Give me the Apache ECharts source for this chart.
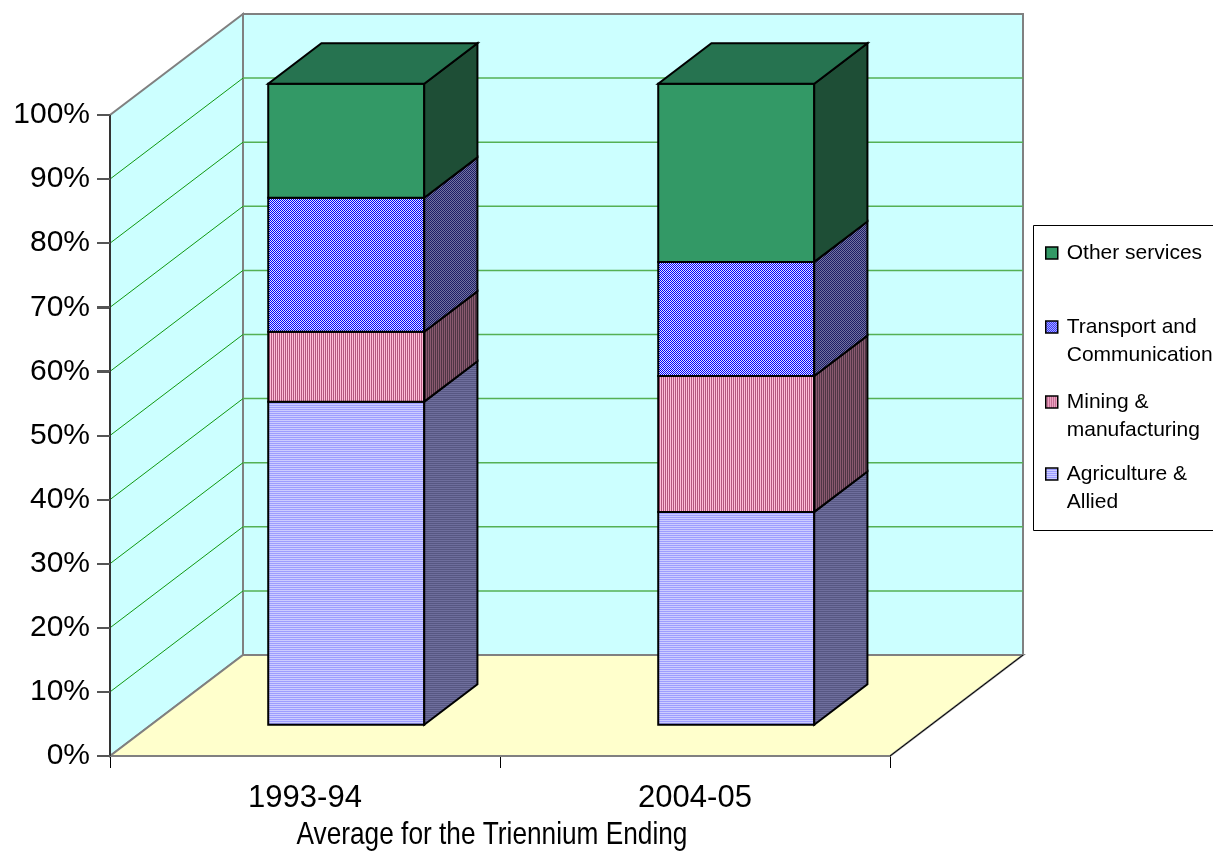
<!DOCTYPE html>
<html>
<head>
<meta charset="UTF-8">
<title>Average for the Triennium Ending</title>
<script src="https://cdn.jsdelivr.net/npm/echarts@6/dist/echarts.min.js"></script>
<style>
  html, body { margin: 0; padding: 0; background: #fff; }
  #main { width: 1213px; height: 853px; }
</style>
</head>
<body>
<div id="main"></div>
<script type="text/javascript">
// data (share in %)
var categories = ['1993-94', '2004-05'];
var agriculture = [50.4, 33.2];
var mining = [10.9, 21.2];
var transport = [20.9, 17.8];
var otherServices = [17.8, 27.8];
var seriesNames = ['Agriculture &\nAllied', 'Mining &\nmanufacturing', 'Transport and\nCommunication', 'Other services'];
var yTicks = [0, 10, 20, 30, 40, 50, 60, 70, 80, 90, 100];

var FONT = '"Liberation Sans", Arial, sans-serif';
var DEPTH = [133, -101];   // 3d depth of the floor in px
var FRONT = 0.31, BACK = 0.71, BAR_W = 0.4;

// small canvas patterns like the excel fills
function pattern(w, h, cells) {
  var c = document.createElement('canvas');
  c.width = w; c.height = h;
  var ctx = c.getContext('2d');
  for (var y = 0; y < h; y++) {
    for (var x = 0; x < w; x++) {
      ctx.fillStyle = cells[y][x];
      ctx.fillRect(x, y, 1, 1);
    }
  }
  return { image: c, repeat: 'repeat' };
}

var looks = [
  { front: pattern(1, 2, [['#ccccff'], ['#9d9dff']]),
    side: pattern(1, 2, [['#6e6e9c'], ['#575782']]) },
  { front: pattern(2, 1, [['#ffbcd8', '#b3567f']]),
    side: pattern(2, 1, [['#8a5a70', '#4f3545']]) },
  { front: pattern(2, 2, [['#0000ff', '#e4e4ff'], ['#e4e4ff', '#0000ff']]),
    side: pattern(2, 2, [['#1c1c66', '#74749f'], ['#74749f', '#1c1c66']]) },
  { front: '#339966', side: '#1e4e36', top: '#267350' }
];

var allValues = [agriculture, mining, transport, otherServices];

function renderWalls(params, api) {
  var cs = params.coordSys;
  var x0 = cs.x, x1 = cs.x + cs.width;
  var y0 = api.coord([0, 0])[1], y100 = api.coord([0, 100])[1];
  var dx = DEPTH[0], dy = DEPTH[1];
  var kids = [];
  // left wall
  kids.push({ type: 'polygon', shape: { points: [[x0, y0], [x0 + dx, y0 + dy], [x0 + dx, y100 + dy], [x0, y100]] },
    style: { fill: '#ccffff', stroke: '#808080', lineWidth: 2 } });
  // back wall
  kids.push({ type: 'rect', shape: { x: x0 + dx, y: y100 + dy, width: x1 - x0, height: y0 - y100 },
    style: { fill: '#ccffff', stroke: '#808080', lineWidth: 2 } });
  // floor
  kids.push({ type: 'polygon', shape: { points: [[x0, y0], [x1, y0], [x1 + dx, y0 + dy], [x0 + dx, y0 + dy]] },
    style: { fill: '#ffffcc', stroke: '#808080', lineWidth: 2 } });
  kids.push({ type: 'line', shape: { x1: x1, y1: y0, x2: x1 + dx, y2: y0 + dy },
    style: { stroke: '#000', lineWidth: 1 } });
  // grid lines on both walls
  for (var i = 1; i < yTicks.length - 1; i++) {
    var y = api.coord([0, yTicks[i]])[1];
    kids.push({ type: 'line', shape: { x1: x0, y1: y, x2: x0 + dx, y2: y + dy },
      style: { stroke: '#119911', lineWidth: 1 } });
    kids.push({ type: 'line', shape: { x1: x0 + dx, y1: y + dy, x2: x1 + dx, y2: y + dy },
      style: { stroke: '#55b055', lineWidth: 1.5 } });
  }
  // value axis line and outer ticks
  kids.push({ type: 'line', shape: { x1: x0, y1: y0, x2: x0, y2: y100 },
    style: { stroke: '#333', lineWidth: 2 } });
  for (var j = 0; j < yTicks.length; j++) {
    var ty = Math.round(api.coord([0, yTicks[j]])[1]);
    kids.push({ type: 'line', shape: { x1: x0 - 13, y1: ty, x2: x0, y2: ty },
      style: { stroke: '#555', lineWidth: 2 } });
  }
  return { type: 'group', children: kids };
}

function renderBar(params, api) {
  var ci = api.value(0), lo = api.value(1), hi = api.value(2);
  var band = api.size([1, 0])[0];
  var w = band * BAR_W;
  var c0 = api.coord([ci, lo]), c1 = api.coord([ci, hi]);
  var fx = DEPTH[0] * FRONT, fy = DEPTH[1] * FRONT;
  var bx = DEPTH[0] * (BACK - FRONT), by = DEPTH[1] * (BACK - FRONT);
  var xl = c0[0] - w / 2 + fx, xr = xl + w;
  var yb = c0[1] + fy, yt = c1[1] + fy;
  var look = looks[params.seriesIndex - 1];
  var kids = [
    { type: 'rect', shape: { x: xl, y: yt, width: w, height: yb - yt },
      style: { fill: look.front, stroke: '#000', lineWidth: 2 } },
    { type: 'polygon', shape: { points: [[xr, yb], [xr + bx, yb + by], [xr + bx, yt + by], [xr, yt]] },
      style: { fill: look.side, stroke: '#000', lineWidth: 2 } }
  ];
  if (look.top) {
    kids.push({ type: 'polygon', shape: { points: [[xl, yt], [xr, yt], [xr + bx, yt + by], [xl + bx, yt + by]] },
      style: { fill: look.top, stroke: '#000', lineWidth: 2 } });
  }
  return { type: 'group', children: kids };
}

var series = [{
  type: 'custom',
  name: 'walls',
  z: 1,
  silent: true,
  renderItem: renderWalls,
  data: [[0, 0]]
}];

var base = [0, 0];
allValues.forEach(function (vals, s) {
  var data = [];
  for (var i = 0; i < categories.length; i++) {
    data.push([i, base[i], base[i] + vals[i]]);
    base[i] += vals[i];
  }
  series.push({
    type: 'custom',
    name: seriesNames[s],
    z: 2,
    itemStyle: { color: looks[s].front },
    encode: { x: 0, y: [1, 2] },
    renderItem: renderBar,
    data: data
  });
});

// one legend per entry so the marker sits on the first text line
var legendTops = [239, 285, 360, 432];
var legendOrder = [3, 2, 1, 0];
var legends = legendOrder.map(function (si, k) {
  var twoLine = seriesNames[si].indexOf('\n') >= 0;
  return {
    left: 1045, top: legendTops[k], padding: 0,
    orient: 'vertical', icon: 'rect', itemWidth: 12, itemHeight: 12,
    selectedMode: false,
    itemStyle: { borderColor: '#000', borderWidth: 1.5 },
    formatter: function (name) { return twoLine ? '\n' + name : name; },
    textStyle: { fontFamily: FONT, fontSize: 21, lineHeight: 28, color: '#000', padding: [0, 0, 0, 4] },
    data: [seriesNames[si]]
  };
});

var myChart = echarts.init(document.getElementById('main'));
var option = {
  animation: false,
  backgroundColor: '#fff',
  grid: { left: 110, right: 323, top: 115, bottom: 97, containLabel: false, outerBoundsMode: 'none' },
  graphic: [{
    type: 'rect', z: 0,
    shape: { x: 1033.5, y: 225.5, width: 200, height: 305 },
    style: { fill: '#fff', stroke: '#000', lineWidth: 1 }
  }, {
    // axis title in a narrow face
    type: 'text', x: 492, y: 835, scaleX: 0.82,
    style: { text: 'Average for the Triennium Ending', font: '32px "Liberation Sans", Arial, sans-serif',
      fill: '#000', align: 'center', verticalAlign: 'middle' }
  }],
  legend: legends,
  xAxis: {
    type: 'category',
    data: categories,
    axisLine: { show: true, lineStyle: { color: '#000', width: 1.5 } },
    axisTick: { show: true, length: 12, lineStyle: { color: '#000', width: 1 } },
    axisLabel: { fontFamily: FONT, fontSize: 31, color: '#000', margin: 27 },
    splitLine: { show: false }
  },
  yAxis: {
    type: 'value',
    min: 0, max: 100, interval: 10,
    axisLine: { show: true, lineStyle: { color: '#333', width: 1.5 } },
    axisTick: { show: true, length: 13, lineStyle: { color: '#555', width: 2 } },
    axisLabel: { fontFamily: FONT, fontSize: 30, color: '#000', margin: 20, formatter: '{value}%' },
    splitLine: { show: false }
  },
  series: series
};
myChart.setOption(option);
</script>
</body>
</html>
